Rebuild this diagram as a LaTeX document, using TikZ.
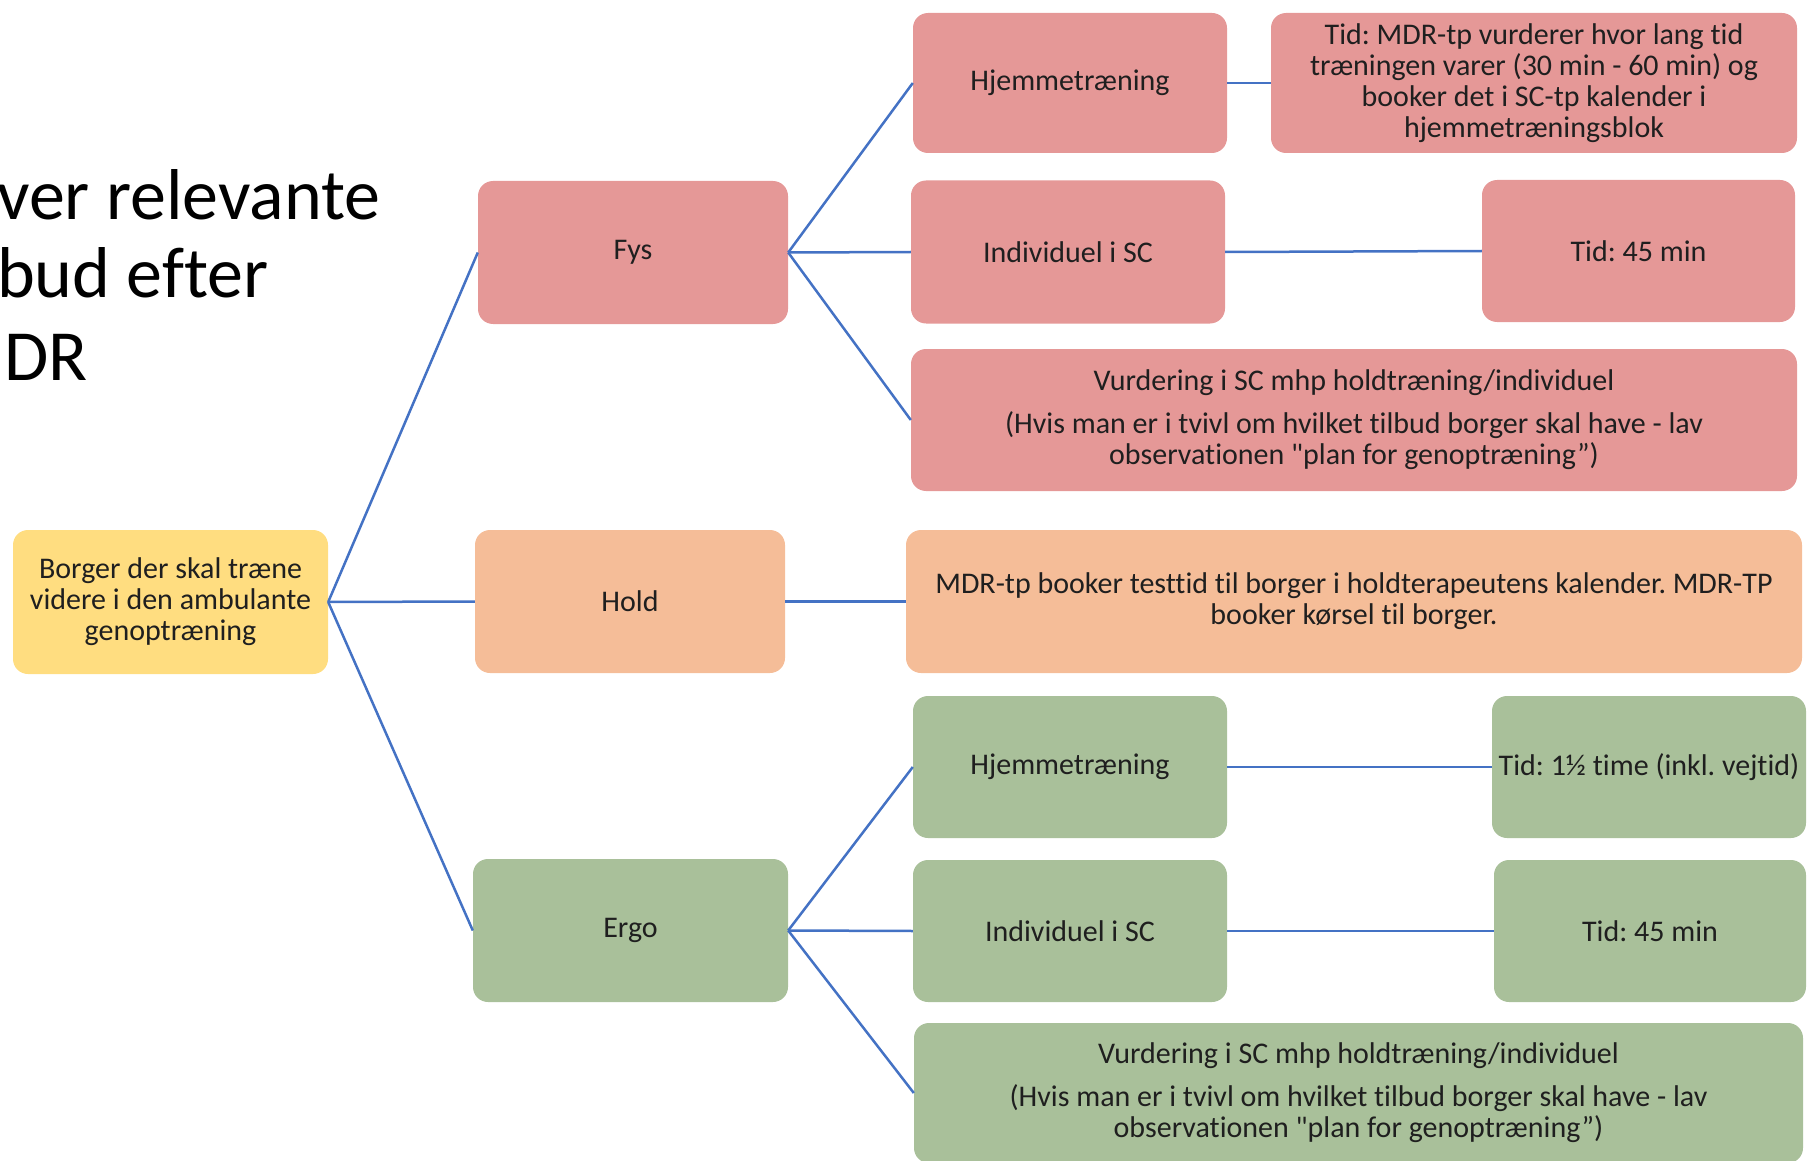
\documentclass[tikz,border=0pt]{standalone}
\usepackage{fontspec}
\setmainfont{Carlito}[Ligatures={TeXOff,CommonOff}]
\frenchspacing
\usetikzlibrary{positioning}
\definecolor{fysred}{RGB}{229,152,151}
\definecolor{holdorange}{RGB}{245,189,152}
\definecolor{ergogreen}{RGB}{169,192,154}
\definecolor{rootyellow}{RGB}{255,221,128}
\definecolor{linkblue}{RGB}{68,114,196}
\begin{document}
\begin{tikzpicture}[x=1pt,y=-1pt,
        box/.style={rounded corners=15pt, inner sep=0pt, align=center, text=black!88,
            font=\fontsize{30}{31}\selectfont},
        rootbox/.style={box, fill=rootyellow},
        fysbox/.style={box, fill=fysred},
        holdbox/.style={box, fill=holdorange},
        ergobox/.style={box, fill=ergogreen},
        titletext/.style={anchor=base west, inner sep=0pt, font=\fontsize{72}{80}\selectfont},
        link/.style={linkblue, line width=2.5pt}]
        \clip (0,0) rectangle (1808,1161);
        \useasboundingbox (0,0) rectangle (1808,1161);
        % title, cut at the left edge
        \node[titletext] (titel1) at (-3,220) {ver relevante};
        \node[titletext] (titel2) at (-3,298) {bud efter};
        \node[titletext] (titel3) at (4,380) {DR};
        % first level
        \node[rootbox, minimum width=315, minimum height=144] (borger) at (170.5,602)
            {Borger der skal træne\\videre i den ambulante\\genoptræning};
        \node[fysbox, minimum width=310, minimum height=143] (fys) at (633,252.5) {Fys};
        \node[holdbox, minimum width=310, minimum height=143] (hold) at (630,601.5) {Hold};
        \node[ergobox, minimum width=315, minimum height=143] (ergo) at (630.5,930.5) {Ergo};
        % fys
        \node[fysbox, minimum width=314, minimum height=140] (fyshjem) at (1070,83) {Hjemmetræning};
        \node[fysbox, minimum width=526, minimum height=140] (fyshjemtid) at (1534,83)
            {Tid: MDR-tp vurderer hvor lang tid\\træningen varer (30 min - 60 min) og\\booker det i SC-tp kalender i\\hjemmetræningsblok};
        \node[fysbox, minimum width=314, minimum height=143] (fysindiv) at (1068,252) {Individuel i SC};
        \node[fysbox, minimum width=313, minimum height=142] (fysindivtid) at (1638.5,251) {Tid: 45 min};
        \node[fysbox, minimum width=886, minimum height=142] (fysvurd) at (1354,420)
            {Vurdering i SC mhp holdtræning/individuel\\[12pt](Hvis man er i tvivl om hvilket tilbud borger skal have - lav\\observationen "plan for genoptræning”)};
        % hold
        \node[holdbox, minimum width=896, minimum height=143] (holdtid) at (1354,601.5)
            {MDR-tp booker testtid til borger i holdterapeutens kalender. MDR-TP\\booker kørsel til borger.};
        % ergo
        \node[ergobox, minimum width=314, minimum height=142] (ergohjem) at (1070,767) {Hjemmetræning};
        \node[ergobox, minimum width=314, minimum height=142] (ergohjemtid) at (1649,767) {Tid: 1½ time (inkl. vejtid)};
        \node[ergobox, minimum width=314, minimum height=142] (ergoindiv) at (1070,931) {Individuel i SC};
        \node[ergobox, minimum width=312, minimum height=142] (ergoindivtid) at (1650,931) {Tid: 45 min};
        \node[ergobox, minimum width=889, minimum height=140] (ergovurd) at (1358.5,1093)
            {Vurdering i SC mhp holdtræning/individuel\\[12pt](Hvis man er i tvivl om hvilket tilbud borger skal have - lav\\observationen "plan for genoptræning”)};
        \foreach \a/\b in {borger/fys, borger/hold, borger/ergo,
                fys/fyshjem, fys/fysindiv, fys/fysvurd, fyshjem/fyshjemtid, fysindiv/fysindivtid,
                hold/holdtid,
                ergo/ergohjem, ergo/ergoindiv, ergo/ergovurd, ergohjem/ergohjemtid, ergoindiv/ergoindivtid} {
                \draw[link] (\a.east) -- (\b.west);
            }
    \end{tikzpicture}
\end{document}
